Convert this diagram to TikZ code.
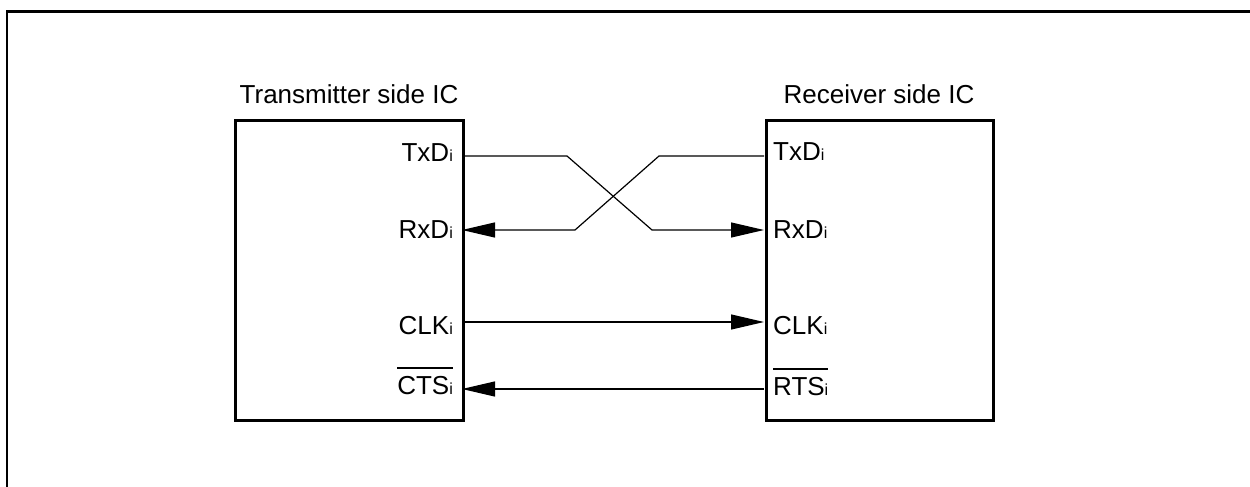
\documentclass[tikz,border=0pt]{standalone}
\usepackage{fontspec}
\setmainfont{Liberation Sans}
\usetikzlibrary{arrows.meta}
\newcommand{\subi}{{\fontsize{16}{16}\selectfont i}}
\newcommand{\ovbar}[1]{\vbox{\hrule height 1.6pt \kern 7pt \hbox{#1}}}
\tikzset{
  icbox/.style={draw, line width=2.6pt, inner sep=0pt},
  title/.style={font=\fontsize{26}{30}\selectfont, anchor=base, inner sep=0pt},
  lpin/.style={font=\fontsize{26}{30}\selectfont, anchor=base east, inner sep=0pt},
  rpin/.style={font=\fontsize{26}{30}\selectfont, anchor=base west, inner sep=0pt},
  wire/.style={line width=1.2pt},
  sig/.style={wire, -{Triangle[length=33pt,width=15pt]}},
  frame/.style={line width=2.2pt}
}
\begin{document}
\begin{tikzpicture}[x=1pt,y=-1pt]
\useasboundingbox (0,0) rectangle (1250,487);
% outer frame
\coordinate (f1) at (7,487);
\coordinate (f2) at (7,11.5);
\coordinate (f3) at (1250,11.5);
\draw[frame] (f1) -- (f2) -- (f3);
% IC boxes
\node[icbox, minimum width=228pt, minimum height=300pt, anchor=north west] (tx) at (234,119) {};
\node[icbox, minimum width=227pt, minimum height=300pt, anchor=north west] (rx) at (765,119) {};
% titles
\node[title] (txt) at (349,103) {Transmitter side IC};
\node[title] (rxt) at (879,103) {Receiver side IC};
% left pin labels
\node[lpin] (ltx) at (453,161) {TxD\subi};
\node[lpin] (lrx) at (453,238) {RxD\subi};
\node[lpin] (lclk) at (453,334) {CLK\subi};
\node[lpin] (lcts) at (453,394) {\ovbar{CTS\subi}};
% right pin labels
\node[rpin] (rtx) at (773,160) {TxD\subi};
\node[rpin] (rrx) at (773,238) {RxD\subi};
\node[rpin] (rclk) at (773,334) {CLK\subi};
\node[rpin] (rrts) at (773,395) {\ovbar{RTS\subi}};
% pin coordinates
\coordinate (pLtx) at (462,156);
\coordinate (pLrx) at (462,230);
\coordinate (pLclk) at (462,322);
\coordinate (pLcts) at (462,389);
\coordinate (pRtx) at (764,156);
\coordinate (pRrx) at (764,230);
\coordinate (pRclk) at (764,322);
\coordinate (pRrts) at (764,389);
% bends of the crossing
\coordinate (a1) at (567,156);
\coordinate (a2) at (652,230);
\coordinate (b1) at (659,156);
\coordinate (b2) at (575,230);
% connectors
\draw[sig] (pLtx) -- (a1) -- (a2) -- (pRrx);
\draw[sig] (pRtx) -- (b1) -- (b2) -- (pLrx);
\draw[sig] (pLclk) -- (pRclk);
\draw[sig] (pRrts) -- (pLcts);
\end{tikzpicture}
\end{document}
